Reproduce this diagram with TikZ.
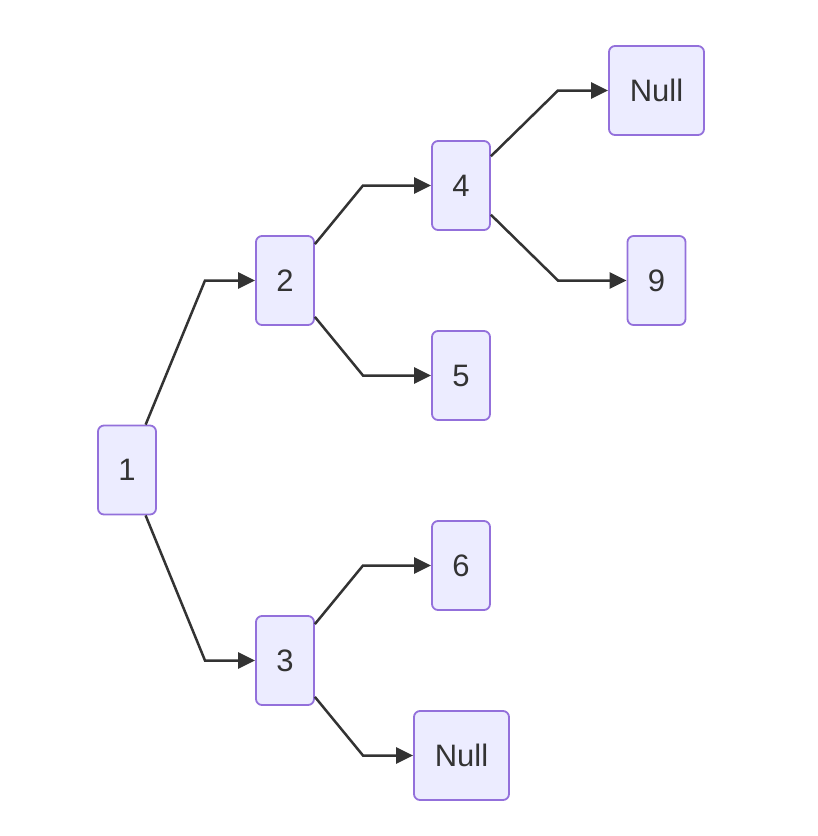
\documentclass[tikz,border=0pt]{standalone}
\usepackage{fontspec}
\setmainfont{Liberation Sans}
\usetikzlibrary{arrows.meta}
\definecolor{nodefill}{HTML}{ECECFF}
\definecolor{nodeline}{HTML}{9370DB}
\definecolor{edgecol}{HTML}{333333}
\begin{document}
\begin{tikzpicture}[x=1pt,y=-1pt,
  box/.style={draw=nodeline,fill=nodefill,line width=1.8pt,rounded corners=6pt,
    minimum width=58pt,minimum height=89pt,inner sep=0pt,
    font=\fontsize{31}{36}\selectfont,text=edgecol},
  widebox/.style={box,minimum width=95pt},
  edge/.style={draw=edgecol,line width=2.5pt,-{Triangle[length=17pt,width=16pt]}}]
\useasboundingbox (0,0) rectangle (818,836);
\node[box] (n1) at (127,470) {1};
\node[box] (n2) at (285,280.5) {2};
\node[box] (n3) at (285,660.5) {3};
\node[box] (n4) at (461,185.5) {4};
\node[box] (n5) at (461,375.5) {5};
\node[box] (n6) at (461,565.5) {6};
\node[widebox] (n7) at (461.5,755.5) {Null};
\node[widebox] (n8) at (656.5,90.5) {Null};
\node[box] (n9) at (656.5,280.5) {9};
\coordinate (b12) at (205,280.5);
\coordinate (b13) at (205,660.5);
\coordinate (b24) at (363,185.5);
\coordinate (b25) at (363,375.5);
\coordinate (b36) at (363,565.5);
\coordinate (b37) at (363,755.5);
\coordinate (b48) at (558,90.5);
\coordinate (b49) at (558,280.5);
\draw[edge] (n1) -- (b12) -- (n2);
\draw[edge] (n1) -- (b13) -- (n3);
\draw[edge] (n2) -- (b24) -- (n4);
\draw[edge] (n2) -- (b25) -- (n5);
\draw[edge] (n3) -- (b36) -- (n6);
\draw[edge] (n3) -- (b37) -- (n7);
\draw[edge] (n4) -- (b48) -- (n8);
\draw[edge] (n4) -- (b49) -- (n9);
\end{tikzpicture}
\end{document}
